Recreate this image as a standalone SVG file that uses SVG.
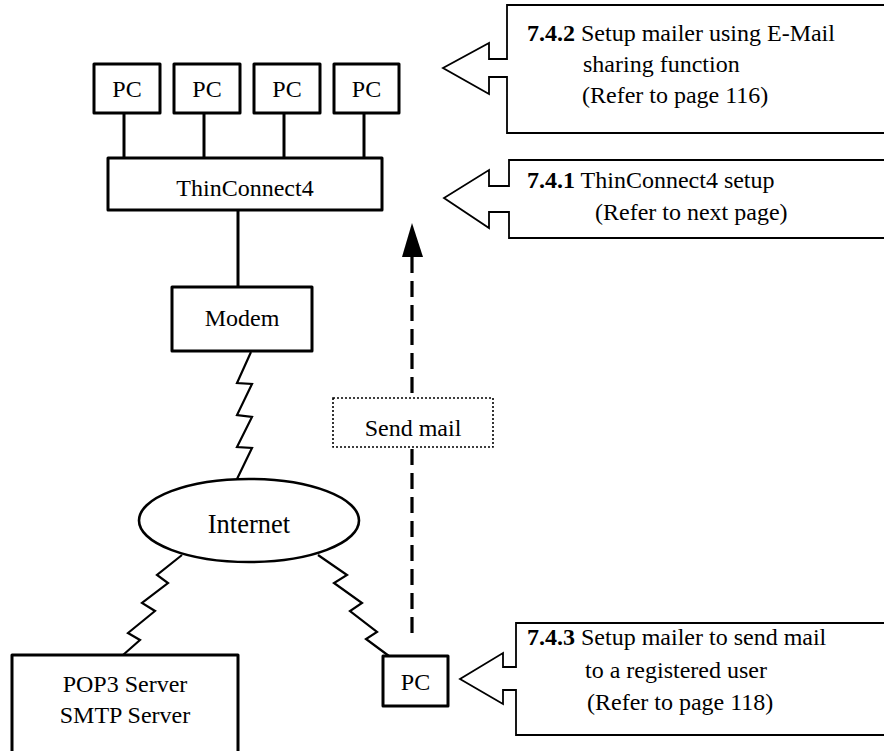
<svg xmlns="http://www.w3.org/2000/svg" width="884" height="751" viewBox="0 0 884 751">
<style>
text{font-family:'Liberation Serif',Tinos,'Times New Roman',Times,'DejaVu Serif',serif;font-size:24px;fill:#000}
.c{text-anchor:middle}
.b{font-weight:bold}
.box{fill:#fff;stroke:#000;stroke-width:3;stroke-linejoin:round}
.ln{fill:none;stroke:#000;stroke-width:3}
.zz{fill:none;stroke:#000;stroke-width:2.2;stroke-linejoin:miter}
.call{fill:#fff;stroke:#000;stroke-width:1.8;stroke-linejoin:miter}
</style>
<rect width="884" height="751" fill="#fff"/>
<g id="connectors">
<line class="ln" x1="124" y1="113" x2="124" y2="158"/>
<line class="ln" x1="204" y1="113" x2="204" y2="158"/>
<line class="ln" x1="284" y1="113" x2="284" y2="158"/>
<line class="ln" x1="364" y1="113" x2="364" y2="158"/>
<line class="ln" x1="238" y1="210" x2="238" y2="287"/>
<polyline class="zz" points="251,352 237,383 252,384 237,415 252,417 237,447 252,448 237,479"/>
<polyline class="zz" points="182,555 157,575 168,583 142,603 155,611 128,633 140,640 123,655"/>
<polyline class="zz" points="318,555 347,575 334,583 362,603 350,611 377,632 366,639 393,659"/>
<line x1="412" y1="257" x2="412" y2="638" stroke="#000" stroke-width="3.2" stroke-dasharray="16 8"/>
<polygon points="412,223 402,257 423,257" fill="#000"/>
</g>
<g id="pc1"><rect class="box" x="94" y="64" width="66" height="49"/><text class="c" x="127" y="97">PC</text></g>
<g id="pc2"><rect class="box" x="174" y="64" width="66" height="49"/><text class="c" x="207" y="97">PC</text></g>
<g id="pc3"><rect class="box" x="254" y="64" width="66" height="49"/><text class="c" x="287" y="97">PC</text></g>
<g id="pc4"><rect class="box" x="334" y="64" width="65" height="49"/><text class="c" x="366.500" y="97">PC</text></g>
<g id="thinconnect"><rect class="box" x="108" y="158" width="274" height="52"/><text class="c" x="245" y="196">ThinConnect4</text></g>
<g id="modem"><rect class="box" x="172" y="287" width="140" height="64"/><text class="c" x="242" y="326">Modem</text></g>
<g id="internet"><ellipse cx="249" cy="520.500" rx="110" ry="41.500" fill="#fff" stroke="#000" stroke-width="2.6"/><text class="c" x="249" y="533" style="font-size:26.500px">Internet</text></g>
<g id="servers"><rect class="box" x="12" y="655" width="226" height="110"/><text class="c" x="125" y="692">POP3 Server</text><text class="c" x="125" y="723">SMTP Server</text></g>
<g id="pc5"><rect class="box" x="383" y="656" width="65" height="50"/><text class="c" x="415.500" y="690">PC</text></g>
<g id="sendmail"><rect x="333" y="398" width="160" height="49" fill="#fff" stroke="#000" stroke-width="1.6" stroke-dasharray="2 2"/><text class="c" x="413" y="436">Send mail</text></g>
<g id="callout742">
<path class="call" d="M900,5 H507 V59 H489 V43 L443,68 L489,94 V77 H507 V133 H900"/>
<text x="527" y="41"><tspan class="b">7.4.2</tspan> Setup mailer using E-Mail</text>
<text x="583" y="72">sharing function</text>
<text x="582" y="103">(Refer to page 116)</text>
</g>
<g id="callout741">
<path class="call" d="M900,160 H509 V186 H489 V170 L444,198 L489,228 V212 H509 V238 H900"/>
<text x="527" y="188"><tspan class="b">7.4.1</tspan> ThinConnect4 setup</text>
<text x="595" y="220">(Refer to next page)</text>
</g>
<g id="callout743">
<path class="call" d="M900,623 H516 V667 H503 V653 L460,679 L503,704 V690 H516 V735 H900"/>
<text x="527" y="645"><tspan class="b">7.4.3</tspan> Setup mailer to send mail</text>
<text x="585" y="678">to a registered user</text>
<text x="587" y="710">(Refer to page 118)</text>
</g>
</svg>
